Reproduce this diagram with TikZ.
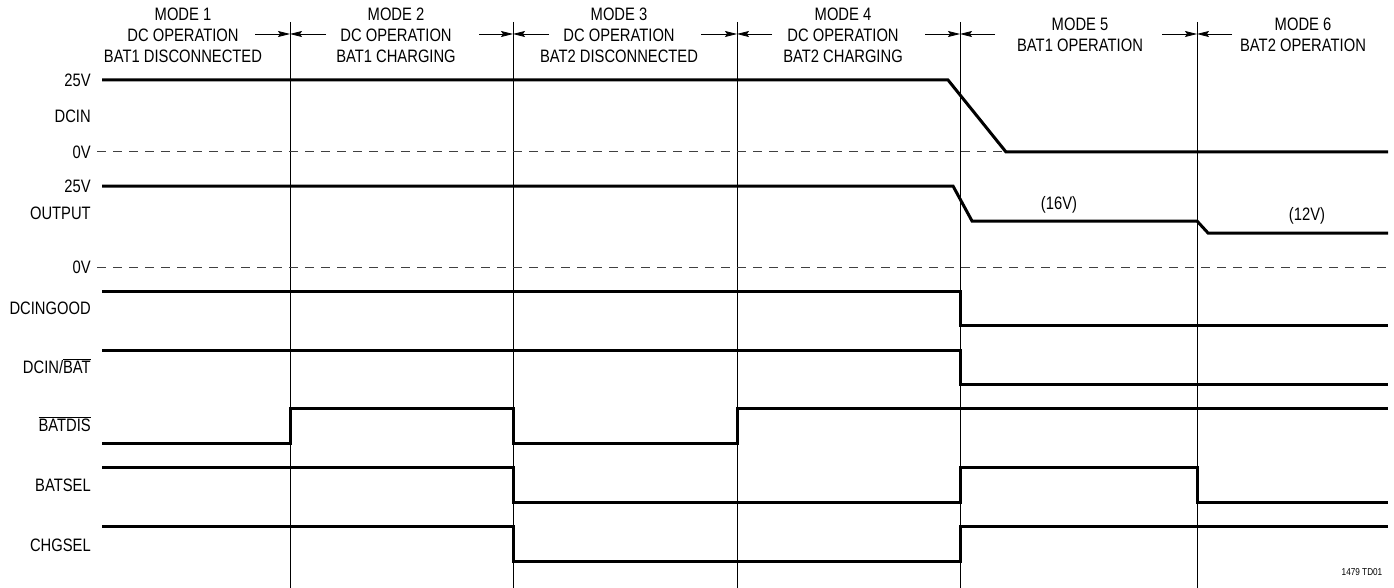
\documentclass[tikz,border=0pt]{standalone}
\usepackage{fontspec}
\setmainfont[FakeStretch = 0.82]{Liberation Sans}
\usetikzlibrary{arrows.meta}

\begin{document}
\begin{tikzpicture}[x = 0.75pt, y = - 0.75pt, align = center,
        font = \fontsize{13.5}{15.75}\selectfont,
        signal/.style = {line width = 2.25pt},
        modeline/.style = {line width = 0.6pt},
        zeroline/.style = {dash pattern = on 6.75pt off 5.25pt, line width = 0.75pt, black!75},
        modearrow/.style = {-{Stealth[length = 9pt, width = 4.5pt, inset = 1.5pt]}, line width = 0.6pt},
        siglabel/.style = {anchor = east, inner sep = 0pt}]
        \useasboundingbox (0, 0) rectangle (1394, 588);

        \node (mode1) at (183, 35) {MODE 1 \\ DC OPERATION \\ BAT1 DISCONNECTED};
        \node (mode2) at (396, 35) {MODE 2 \\ DC OPERATION \\ BAT1 CHARGING};
        \node (mode3) at (619, 35) {MODE 3 \\ DC OPERATION \\ BAT2 DISCONNECTED};
        \node (mode4) at (843, 35) {MODE 4 \\ DC OPERATION \\ BAT2 CHARGING};
        \node (mode5) at (1080, 35) {MODE 5 \\ BAT1 OPERATION};
        \node (mode6) at (1303, 35) {MODE 6 \\ BAT2 OPERATION};

        \draw[modeline] (290, 22) -- (290, 588);
        \draw[modeline] (513, 22) -- (513, 588);
        \draw[modeline] (737, 22) -- (737, 588);
        \draw[modeline] (960, 22) -- (960, 588);
        \draw[modeline] (1197, 22) -- (1197, 588);

        \draw[modearrow] (255, 34) -- (290, 34);
        \draw[modearrow] (326, 34) -- (290, 34);
        \draw[modearrow] (479, 34) -- (513, 34);
        \draw[modearrow] (549, 34) -- (513, 34);
        \draw[modearrow] (701, 34) -- (737, 34);
        \draw[modearrow] (772, 34) -- (737, 34);
        \draw[modearrow] (925, 34) -- (960, 34);
        \draw[modearrow] (995, 34) -- (960, 34);
        \draw[modearrow] (1162, 34) -- (1197, 34);
        \draw[modearrow] (1232, 34) -- (1197, 34);

        \node[siglabel] (dcinhigh) at (91, 80) {25V};
        \node[siglabel] (dcin) at (91, 116) {DCIN};
        \node[siglabel] (dcinlow) at (91, 152) {0V};
        \node[siglabel] (outhigh) at (91, 186) {25V};
        \node[siglabel] (output) at (91, 213) {OUTPUT};
        \node[siglabel] (outlow) at (91, 267) {0V};
        \node[siglabel] (dcingood) at (91, 308) {DCINGOOD};
        \node[siglabel] (dcinbat) at (91, 366) {DCIN/$\overline{\mbox{BAT}}$};
        \node[siglabel] (batdis) at (91, 424) {$\overline{\mbox{BATDIS}}$};
        \node[siglabel] (batsel) at (91, 485) {BATSEL};
        \node[siglabel] (chgsel) at (91, 545) {CHGSEL};

        \draw[zeroline] (97, 152) -- (1388, 152);
        \draw[zeroline] (97, 267) -- (1388, 267);

        \draw[signal] (102, 80) -- (948, 80) -- (1006, 152) -- (1388, 152);
        \draw[signal] (102, 186) -- (953, 186) -- (972, 221) -- (1197, 221) -- (1208, 233) -- (1388, 233);
        \node (v16) at (1059, 205) {(16V)};
        \node (v12) at (1307, 216) {(12V)};
        \draw[signal] (102, 291) -- (960, 291) -- (960, 325) -- (1388, 325);
        \draw[signal] (102, 350) -- (960, 350) -- (960, 384) -- (1388, 384);
        \draw[signal] (102, 443) -- (290, 443) -- (290, 408) -- (513, 408) -- (513, 443)
            -- (737, 443) -- (737, 408) -- (1388, 408);
        \draw[signal] (102, 467) -- (513, 467) -- (513, 502) -- (960, 502) -- (960, 467)
            -- (1197, 467) -- (1197, 502) -- (1388, 502);
        \draw[signal] (102, 526) -- (513, 526) -- (513, 561) -- (960, 561) -- (960, 526) -- (1388, 526);

        \node[font = \fontsize{7.5}{9}\selectfont] (figid) at (1362, 572) {1479 TD01};
    \end{tikzpicture}
\end{document}
